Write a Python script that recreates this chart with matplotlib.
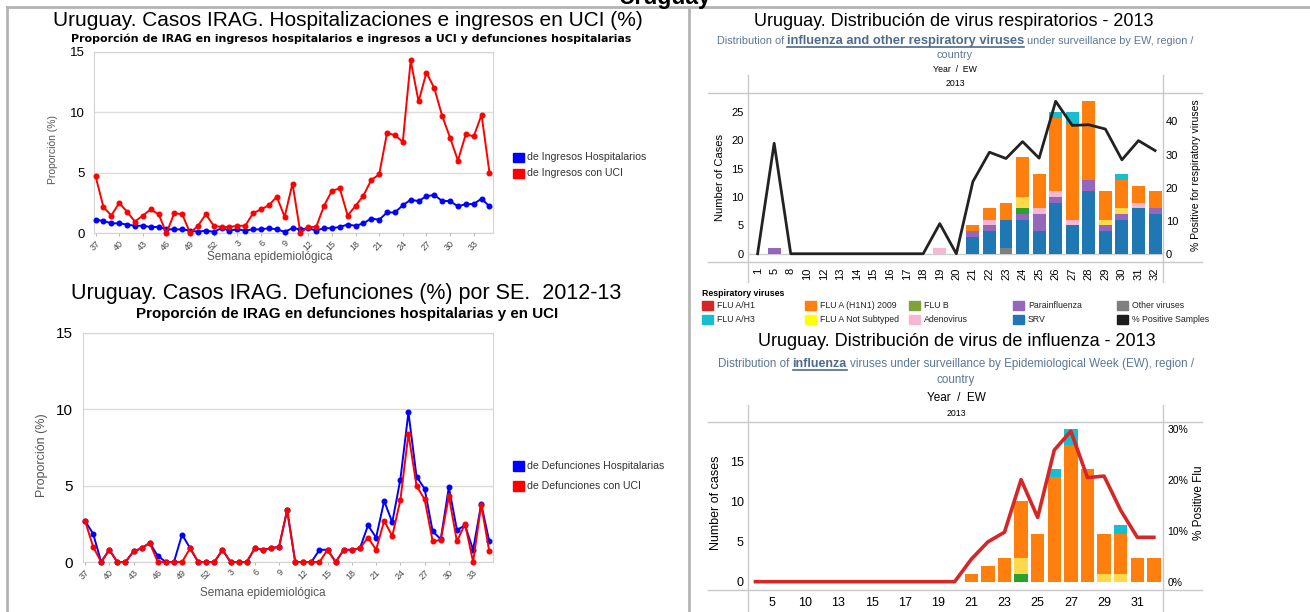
import matplotlib
matplotlib.use('Agg')
import matplotlib.pyplot as plt
from matplotlib.lines import Line2D
from matplotlib.patches import Rectangle
import numpy as np

plt.rcParams['font.family'] = ['Liberation Sans', 'DejaVu Sans']

W, H = 1310, 612
NARROW = ['Liberation Sans Narrow', 'Liberation Sans', 'DejaVu Sans']

# ---- IRAG data (weeks 37/2012 .. 35/2013) ----
semanas = list(range(37, 53)) + list(range(1, 36))
ingresos_hosp = [1.1, 1.0, 0.8, 0.8, 0.7, 0.6, 0.6, 0.5, 0.5, 0.3, 0.3, 0.3, 0.2, 0.1, 0.2, 0.1,
                 0.4, 0.2, 0.3, 0.2, 0.3, 0.3, 0.4, 0.3, 0.1, 0.4, 0.3, 0.4, 0.2, 0.4, 0.4, 0.5,
                 0.7, 0.6, 0.8, 1.2, 1.1, 1.7, 1.7, 2.3, 2.75, 2.65, 3.05, 3.15, 2.65, 2.65, 2.2,
                 2.4, 2.4, 2.85, 2.2]
ingresos_uci = [4.7, 2.15, 1.45, 2.5, 1.75, 0.95, 1.45, 1.95, 1.55, 0.0, 1.65, 1.55, 0.0, 0.6,
                1.55, 0.6, 0.5, 0.5, 0.6, 0.6, 1.65, 1.95, 2.3, 3.0, 1.35, 4.1, 0.0, 0.5, 0.5,
                2.25, 3.5, 3.7, 1.45, 2.25, 3.1, 4.4, 4.85, 8.3, 8.1, 7.55, 14.3, 10.9, 13.3,
                12.0, 9.7, 7.9, 6.0, 8.2, 8.0, 9.8, 5.0]
defun_hosp = [2.7, 1.85, 0.0, 0.8, 0.0, 0.0, 0.7, 0.9, 1.25, 0.4, 0.0, 0.0, 1.8, 0.9, 0.0, 0.0,
              0.0, 0.8, 0.0, 0.0, 0.0, 0.9, 0.8, 0.9, 1.0, 3.4, 0.0, 0.0, 0.0, 0.8, 0.8, 0.0,
              0.8, 0.8, 0.9, 2.4, 1.6, 4.0, 2.6, 5.4, 9.8, 5.6, 4.8, 2.0, 1.5, 4.9, 2.1, 2.4,
              0.8, 3.8, 1.35]
defun_uci = [2.7, 1.0, 0.0, 0.8, 0.0, 0.0, 0.7, 0.9, 1.25, 0.0, 0.0, 0.0, 0.0, 0.9, 0.0, 0.0,
             0.0, 0.8, 0.0, 0.0, 0.0, 0.9, 0.8, 0.9, 1.0, 3.4, 0.0, 0.0, 0.0, 0.0, 0.8, 0.0,
             0.8, 0.8, 0.9, 1.6, 0.8, 2.7, 1.7, 4.05, 8.4, 5.0, 4.1, 1.35, 1.45, 4.3, 1.35, 2.5,
             0.0, 3.75, 0.7]

# ---- respiratory virus data 2013 by EW ----
ew = ['1', '5', '8', '10', '12', '13', '14', '15', '16', '17', '18', '19', '20',
      '21', '22', '23', '24', '25', '26', '27', '28', '29', '30', '31', '32']
otros     = [0, 0, 0, 0, 0, 0, 0, 0, 0, 0, 0, 0, 0, 0, 0, 1, 0, 0, 0, 0, 0, 0, 0, 0, 0]
srv       = [0, 0, 0, 0, 0, 0, 0, 0, 0, 0, 0, 0, 0, 3, 4, 5, 6, 4, 9, 5, 11, 4, 6, 8, 7]
parainfl  = [0, 1, 0, 0, 0, 0, 0, 0, 0, 0, 0, 0, 0, 1, 1, 0, 1, 3, 1, 0, 2, 1, 1, 0, 1]
flu_b     = [0, 0, 0, 0, 0, 0, 0, 0, 0, 0, 0, 0, 0, 0, 0, 0, 1, 0, 0, 0, 0, 0, 0, 0, 0]
adenov    = [0, 0, 0, 0, 0, 0, 0, 0, 0, 0, 0, 1, 0, 0, 1, 0, 0, 1, 1, 1, 0, 0, 0, 1, 0]
flu_a_ns  = [0, 0, 0, 0, 0, 0, 0, 0, 0, 0, 0, 0, 0, 0, 0, 0, 2, 0, 0, 0, 0, 1, 1, 0, 0]
flu_h1n1  = [0, 0, 0, 0, 0, 0, 0, 0, 0, 0, 0, 0, 0, 1, 2, 3, 7, 6, 13, 17, 14, 5, 5, 3, 3]
flu_h3    = [0, 0, 0, 0, 0, 0, 0, 0, 0, 0, 0, 0, 0, 0, 0, 0, 0, 0, 1, 2, 0, 0, 1, 0, 0]
pct_resp  = [0, 33.4, 0, 0, 0, 0, 0, 0, 0, 0, 0, 9.1, 0, 21.8, 30.7, 28.8, 33.9, 28.9,
             46.1, 38.8, 39.0, 37.7, 28.4, 34.2, 31.2]
pct_flu   = [0, 0, 0, 0, 0, 0, 0, 0, 0, 0, 0, 0, 0, 4.4, 7.8, 9.7, 20.0, 12.6, 25.8, 29.5,
             20.4, 20.7, 14.0, 8.7, 8.7]

leg_names = [['FLU A/H1', 'FLU A/H3'], ['FLU A (H1N1) 2009', 'FLU A Not Subtyped'],
             ['FLU B', 'Adenovirus'], ['Parainfluenza', 'SRV'],
             ['Other viruses', '% Positive Samples']]
leg_cols = [['#d62728', '#17becf'], ['#ff7f0e', '#ffff00'], ['#7ea33a', '#f7b6d2'],
            ['#9467bd', '#1f77b4'], ['#7f7f7f', '#1e1e1e']]


def rect(x0, y0, x1, y1):
    return [x0 / W, 1 - y1 / H, (x1 - x0) / W, (y1 - y0) / H]


def hline(x0, x1, y, **kw):
    fig.add_artist(Line2D([x0 / W, x1 / W], [1 - y / H, 1 - y / H], **kw))


def vline(x, y0, y1, **kw):
    fig.add_artist(Line2D([x / W, x / W], [1 - y0 / H, 1 - y1 / H], **kw))


def txt(x, y, s, **kw):
    kw.setdefault('ha', 'center')
    kw.setdefault('va', 'center')
    return fig.text(x / W, 1 - y / H, s, **kw)


def rich_line(xc, y, pieces, gap, uline_color):
    r = fig.canvas.get_renderer()
    objs = [txt(0, y, s, ha='left', **kw) for s, kw in pieces]
    ws = [t.get_window_extent(r).width for t in objs]
    x = xc - (sum(ws) + gap * (len(ws) - 1)) / 2
    for (s, kw), t, w in zip(pieces, objs, ws):
        t.set_x(x / W)
        if kw.get('fontweight') == 'bold':
            hline(x, x + w, y + kw['fontsize'] * 0.68, color=uline_color, lw=1.2)
        x += w + gap


fig = plt.figure(figsize=(W / 100, H / 100), dpi=100)

# frame
hline(7, W, 7, color='#b4b4b4', lw=2)
vline(7, 7, H, color='#b4b4b4', lw=2)
vline(689, 7, H, color='#b4b4b4', lw=2)
txt(665, 4, 'Uruguay', fontsize=16.5, fontweight='bold', va='baseline')


def irag_axes(box, s_blue, s_red, xlim, tick_fs, pad):
    ax = fig.add_axes(rect(*box))
    x = np.arange(len(semanas))
    ax.plot(x, s_blue, color='#0000ff', marker='o', ms=3.3, lw=1.4, clip_on=False, zorder=3)
    ax.plot(x, s_red, color='#ff0000', marker='o', ms=3.3, lw=1.4, clip_on=False, zorder=4)
    ax.set_xlim(*xlim)
    ax.set_ylim(0, 15)
    ax.set_yticks([0, 5, 10, 15])
    ax.grid(axis='y', color='#dddddd', lw=1)
    ax.set_axisbelow(True)
    ax.set_xticks(x[::3])
    ax.set_xticklabels([str(s) for s in semanas[::3]], rotation=45, ha='right',
                       rotation_mode='anchor', fontsize=6.5, color='#444444')
    ax.tick_params(axis='y', length=0, labelsize=tick_fs, pad=pad)
    ax.tick_params(axis='x', length=2, color='#bbbbbb', pad=2)
    for sp in ax.spines.values():
        sp.set_color('#d4d4d4')
    return ax


# top-left
irag_axes((94, 52, 493, 233), ingresos_hosp, ingresos_uci, (-0.2, 50.45), 9.5, 6.5)
txt(348, 21, 'Uruguay. Casos IRAG. Hospitalizaciones e ingresos en UCI (%)', fontsize=15)
txt(351, 39, 'Proporción de IRAG en ingresos hospitalarios e ingresos a UCI y defunciones hospitalarias',
    fontsize=7.9, fontweight='bold', family='DejaVu Sans')
txt(270, 257, 'Semana epidemiológica', fontsize=8.5, color='#555555')
txt(53, 149, 'Proporción (%)', fontsize=7.5, color='#555555', rotation=90)
for i, (lab, c) in enumerate([('de Ingresos Hospitalarios', '#0000ff'), ('de Ingresos con UCI', '#ff0000')]):
    fig.add_artist(Rectangle(((513) / W, 1 - (162 + 16 * i) / H), 11 / W, 9 / H, color=c))
    txt(527, 157 + 16 * i, lab, fontsize=7.6, color='#333333', ha='left')

# bottom-left
irag_axes((83, 333, 493, 562), defun_hosp, defun_uci, (-0.25, 50.46), 11, 7)
txt(346, 293, 'Uruguay. Casos IRAG. Defunciones (%) por SE.  2012-13', fontsize=15.5)
txt(347, 314, 'Proporción de IRAG en defunciones hospitalarias y en UCI', fontsize=10.9,
    fontweight='bold')
txt(263, 593, 'Semana epidemiológica', fontsize=8.5, color='#555555')
txt(42, 455, 'Proporción (%)', fontsize=9, color='#555555', rotation=90)
for i, (lab, c) in enumerate([('de Defunciones Hospitalarias', '#0000ff'), ('de Defunciones con UCI', '#ff0000')]):
    fig.add_artist(Rectangle((513 / W, 1 - (471 + 20 * i) / H), 11 / W, 10 / H, color=c))
    txt(527, 466 + 20 * i, lab, fontsize=7.6, color='#333333', ha='left')

# ---- top-right: respiratory viruses ----
xs = np.arange(len(ew))
axr = fig.add_axes(rect(748, 93, 1163, 262))
stack = [(otros, '#7f7f7f'), (srv, '#1f77b4'), (parainfl, '#9467bd'), (flu_b, '#2ca02c'),
         (adenov, '#f7b6d2'), (flu_a_ns, '#ffd94a'), (flu_h1n1, '#ff7f0e'), (flu_h3, '#17becf')]
bottom = np.zeros(len(ew))
for vals, c in stack:
    axr.bar(xs, vals, 0.78, bottom=bottom, color=c, zorder=2)
    bottom += np.array(vals)
axr.axhline(0, color='#cccccc', lw=1, zorder=1)
axr.set_xlim(-0.58, 24.48)
axr.set_ylim(-1.5, 28.4)
axr.set_yticks([0, 5, 10, 15, 20, 25])
axr.set_xticks(xs)
axr.set_xticklabels(ew, rotation=90, fontsize=7.5)
axr.tick_params(length=0, labelsize=8, pad=3)
axr.tick_params(axis='x', pad=4)
for sp in axr.spines.values():
    sp.set_visible(False)
axr2 = axr.twinx()
axr2.plot(xs, pct_resp, color='#222222', lw=2)
axr2.set_ylim(-2.5, 48.6)
axr2.set_yticks([0, 10, 20, 30, 40])
axr2.tick_params(length=0, labelsize=8, pad=2)
for sp in axr2.spines.values():
    sp.set_visible(False)
hline(708, 1202, 93, color='#c8c8c8', lw=1)
hline(708, 1202, 262, color='#c8c8c8', lw=1)
vline(748, 75, 282, color='#c8c8c8', lw=1)
vline(1163, 75, 282, color='#c8c8c8', lw=1)
txt(720, 177, 'Number of Cases', fontsize=8, rotation=90)
txt(1196, 175, '% Positive for respiratory viruses', fontsize=7.5, rotation=90, family=NARROW)

txt(954, 21, 'Uruguay. Distribución de virus respiratorios - 2013', fontsize=13, family=NARROW)
rich_line(955, 41, [('Distribution of', dict(fontsize=7.8, color='#5b7797')),
                    ('influenza and other respiratory viruses',
                     dict(fontsize=9.3, color='#4f6b8c', fontweight='bold')),
                    ('under surveillance by EW, region /', dict(fontsize=7.8, color='#5b7797'))],
          3, '#4f6b8c')
txt(955, 55, 'country', fontsize=7.8, color='#5b7797')
txt(955, 70, 'Year  /  EW', fontsize=6.3)
txt(955, 84, '2013', fontsize=6.3)

# legend
txt(702, 293, 'Respiratory viruses', fontsize=6.3, fontweight='bold', ha='left')
for ci, colx in enumerate([702, 805, 909, 1013, 1117]):
    for ri, yy in enumerate([305, 319]):
        fig.add_artist(Rectangle((colx / W, 1 - (yy + 4.5) / H), 11 / W, 9 / H,
                                 color=leg_cols[ci][ri]))
        txt(colx + 15, yy, leg_names[ci][ri], fontsize=6.3, ha='left', color='#222222')

# ---- bottom-right: influenza ----
axf = fig.add_axes(rect(748, 422, 1163, 590))
stack_f = [(flu_b, '#2ca02c'), (flu_a_ns, '#ffd94a'), (flu_h1n1, '#ff7f0e'), (flu_h3, '#17becf')]
bottom = np.zeros(len(ew))
for vals, c in stack_f:
    axf.bar(xs, vals, 0.8, bottom=bottom, color=c, zorder=2)
    bottom += np.array(vals)
axf.set_xlim(-0.45, 24.55)
axf.set_ylim(-1.04, 19.9)
axf.set_yticks([0, 5, 10, 15])
axf.set_xticks(xs[1::2])
axf.set_xticklabels(ew[1::2], fontsize=9)
axf.tick_params(length=0, labelsize=9, pad=3)
axf.tick_params(axis='x', pad=5)
for sp in axf.spines.values():
    sp.set_visible(False)
axf2 = axf.twinx()
axf2.plot(xs, pct_flu, color='#d62728', lw=2.6)
axf2.set_ylim(-1.63, 31.3)
axf2.set_yticks([0, 10, 20, 30])
axf2.set_yticklabels(['0%', '10%', '20%', '30%'])
axf2.tick_params(length=0, labelsize=7.5, pad=3)
for sp in axf2.spines.values():
    sp.set_visible(False)
hline(708, 1202, 422, color='#c8c8c8', lw=1)
hline(708, 1202, 590, color='#c8c8c8', lw=1)
vline(748, 405, H, color='#c8c8c8', lw=1)
vline(1163, 405, H, color='#c8c8c8', lw=1)
txt(716, 503, 'Number of cases', fontsize=9, rotation=90)
txt(1199, 503, '% Positive Flu', fontsize=8.5, rotation=90)

txt(957, 341, 'Uruguay. Distribución de virus de influenza - 2013', fontsize=13, family=NARROW)
rich_line(956, 364, [('Distribution of', dict(fontsize=8.4, color='#5b7797', family=NARROW)),
                     ('influenza', dict(fontsize=9, color='#4f6b8c', fontweight='bold')),
                     ('viruses under surveillance by Epidemiological Week (EW), region /',
                      dict(fontsize=8.4, color='#5b7797', family=NARROW))],
          3, '#4f6b8c')
txt(956, 380, 'country', fontsize=8.4, color='#5b7797', family=NARROW)
txt(956, 398, 'Year  /  EW', fontsize=8.5, family=NARROW)
txt(956, 413, '2013', fontsize=6.3)

fig.savefig('out.png', dpi=100)
